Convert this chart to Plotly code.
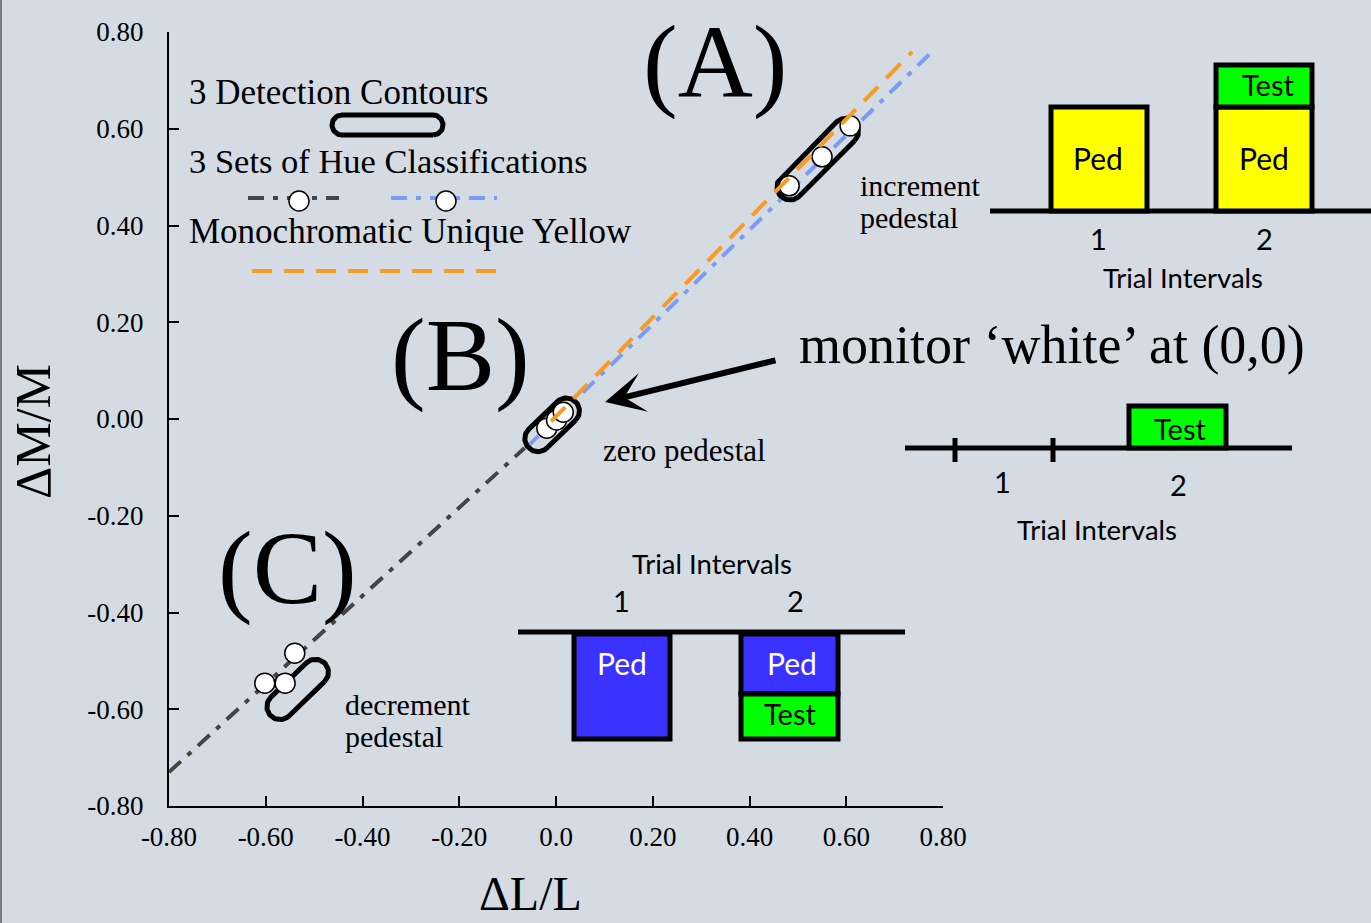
import numpy as np
import plotly.graph_objects as go

# ---------------- data ----------------
inc_x = [0.482, 0.550, 0.608]
inc_y = [0.482, 0.542, 0.606]
zero_x = [-0.019, 0.001, 0.015]
zero_y = [-0.019, -0.002, 0.014]
dec_x = [-0.540, -0.602, -0.560]
dec_y = [-0.484, -0.546, -0.546]

gray_x = [-0.80, -0.065]
gray_y = [-0.730, -0.060]
blue_x = [-0.060, 0.777]
blue_y = [-0.058, 0.759]
orange_x = [-0.010, 0.736]
orange_y = [-0.005, 0.759]

# detection contours: centre x, centre y, half length, angle (deg), radius
contour_cx = [0.541, -0.008, -0.534]
contour_cy = [0.537, -0.012, -0.559]
contour_half = [0.081, 0.041, 0.051]
contour_ang = [45, 44, 44]
contour_r = [0.027, 0.027, 0.027]

tick_vals = [-0.8, -0.6, -0.4, -0.2, 0.0, 0.2, 0.4, 0.6, 0.8]
x_tick_text = ["-0.80", "-0.60", "-0.40", "-0.20", "0.0", "0.20", "0.40", "0.60", "0.80"]
y_tick_text = ["-0.80", "-0.60", "-0.40", "-0.20", "0.00", "0.20", "0.40", "0.60", "0.80"]

# ---------------- layout helpers ----------------
W, H = 1371, 923
L, R, T, B = 169, 428, 32, 117
PW, PH = W - L - R, H - T - B
BG = "#d4dbe3"
SERIF = "Liberation Serif, Times New Roman, serif"
SANS = "Lato, Noto Sans, sans-serif"
GRAY = "#444444"
BLUE = "#7b9cf5"
ORANGE = "#f99a22"
YELLOW = "#ffff00"
GREEN = "#00ff00"
PURPLE = "#3a33ff"


def px(x):
    return (x - L) / PW


def py(y):
    return (H - B - y) / PH


def dx(x):  # pixel -> data x
    return (x - L) / PW * 1.6 - 0.8


def dy(y):  # pixel -> data y
    return (H - B - y) / PH * 1.6 - 0.8


def capsule(cx, cy, half, ang, r, n=40):
    a = np.deg2rad(ang)
    ux, uy = np.cos(a), np.sin(a)
    t1 = np.linspace(a - np.pi / 2, a + np.pi / 2, n)
    t2 = np.linspace(a + np.pi / 2, a + 3 * np.pi / 2, n)
    x1 = cx + half * ux + r * np.cos(t1)
    y1 = cy + half * uy + r * np.sin(t1)
    x2 = cx - half * ux + r * np.cos(t2)
    y2 = cy - half * uy + r * np.sin(t2)
    xs = np.concatenate([x1, x2, x1[:1]])
    ys = np.concatenate([y1, y2, y1[:1]])
    return xs, ys


DASHDOT = "16px,9px,5px,9px"
DASH = "20px,12px"

fig = go.Figure()

# fit lines (under the points)
fig.add_trace(go.Scatter(x=gray_x, y=gray_y, mode="lines",
                         line=dict(color=GRAY, width=4, dash=DASHDOT), hoverinfo="skip"))
fig.add_trace(go.Scatter(x=blue_x, y=blue_y, mode="lines",
                         line=dict(color=BLUE, width=4, dash=DASHDOT), hoverinfo="skip"))

# contours
for cx, cy, hl, ang, r in zip(contour_cx, contour_cy, contour_half, contour_ang, contour_r):
    xs, ys = capsule(cx, cy, hl, ang, r)
    fig.add_trace(go.Scatter(x=xs, y=ys, mode="lines",
                             line=dict(color="black", width=5), hoverinfo="skip"))

# hue classification points
for xs, ys in [(inc_x, inc_y), (zero_x, zero_y), (dec_x, dec_y)]:
    fig.add_trace(go.Scatter(x=xs, y=ys, mode="markers",
                             marker=dict(size=20, color="white",
                                         line=dict(color="black", width=1.5)),
                             hoverinfo="skip"))

# monochromatic unique yellow
fig.add_trace(go.Scatter(x=orange_x, y=orange_y, mode="lines",
                         line=dict(color=ORANGE, width=4, dash=DASH), hoverinfo="skip"))

# ---------------- legend samples ----------------
fig.add_trace(go.Scatter(x=[dx(248), dx(339)], y=[dy(198), dy(198)], mode="lines",
                         line=dict(color=GRAY, width=4, dash=DASHDOT), hoverinfo="skip"))
fig.add_trace(go.Scatter(x=[dx(391), dx(497)], y=[dy(198), dy(198)], mode="lines",
                         line=dict(color=BLUE, width=4, dash=DASHDOT), hoverinfo="skip"))
fig.add_trace(go.Scatter(x=[dx(299), dx(446)], y=[dy(201), dy(201)], mode="markers",
                         marker=dict(size=20, color="white", line=dict(color="black", width=1.5)),
                         hoverinfo="skip"))
fig.add_trace(go.Scatter(x=[dx(252), dx(499)], y=[dy(271), dy(271)], mode="lines",
                         line=dict(color=ORANGE, width=4, dash=DASH), hoverinfo="skip"))
lx, ly = capsule(dx(387.5), dy(125), 1.6 * 45.5 / PW, 0, 1.6 * 10 / PW)
fig.add_trace(go.Scatter(x=lx, y=ly, mode="lines", line=dict(color="black", width=5),
                         hoverinfo="skip"))

annotations = []


def text(x, y, s, size, family=SERIF, color="black", xanchor="center", yanchor="middle"):
    annotations.append(dict(x=px(x), y=py(y), xref="paper", yref="paper", text=s,
                            showarrow=False, xanchor=xanchor, yanchor=yanchor,
                            font=dict(family=family, size=size, color=color)))


# legend texts
text(187, 93, "3 Detection Contours", 35, xanchor="left")
text(187, 161, "3 Sets of Hue Classifications", 34.5, xanchor="left")
text(187, 231, "Monochromatic Unique Yellow", 35, xanchor="left")

# big panel labels
text(715, 62, "(A)", 104)
text(460, 355, "(B)", 104)
text(287, 568, "(C)", 104)

# descriptive labels
text(858, 185, "increment", 30, xanchor="left")
text(858, 217, "pedestal", 30, xanchor="left")
text(601, 450, "zero pedestal", 31, xanchor="left")
text(343, 704, "decrement", 30, xanchor="left")
text(343, 736, "pedestal", 30, xanchor="left")
text(797, 345, "monitor ‘white’ at (0,0)", 54, xanchor="left")

# axis titles
text(530, 894, "ΔL/L", 48)
annotations.append(dict(x=px(33), y=py(432), xref="paper", yref="paper", text="ΔM/M",
                        showarrow=False, textangle=-90, xanchor="center", yanchor="middle",
                        font=dict(family=SERIF, size=50, color="black")))

# arrow to white point
annotations.append(dict(x=dx(605), y=dy(402), xref="x", yref="y", text="",
                        showarrow=True, axref="pixel", ayref="pixel", ax=172, ay=-42,
                        arrowhead=3, arrowsize=1.1, arrowwidth=6, arrowcolor="black"))

# ---------------- trial-interval schematics ----------------
shapes = []
LW = 5


def hline(x0, x1, y):
    shapes.append(dict(type="line", xref="paper", yref="paper", x0=px(x0), x1=px(x1),
                       y0=py(y), y1=py(y), line=dict(color="black", width=LW)))


def vline(x, y0, y1):
    shapes.append(dict(type="line", xref="paper", yref="paper", x0=px(x), x1=px(x),
                       y0=py(y0), y1=py(y1), line=dict(color="black", width=LW)))


def box(x0, x1, y0, y1, fill):
    shapes.append(dict(type="rect", xref="paper", yref="paper", x0=px(x0), x1=px(x1),
                       y0=py(y0), y1=py(y1), fillcolor=fill,
                       line=dict(color="black", width=LW)))


# (A) increment pedestal
hline(990, 1371, 211)
box(1051, 1147, 107, 211, YELLOW)
box(1216, 1312, 107, 211, YELLOW)
box(1216, 1312, 65, 107, GREEN)
text(1098, 158, "Ped", 30, SANS)
text(1264, 158, "Ped", 30, SANS)
text(1268, 84, "Test", 29, SANS)
text(1098, 238, "1", 29, SANS)
text(1264, 238, "2", 29, SANS)
text(1183, 277, "Trial Intervals", 27.5, SANS)

# (B) zero pedestal
hline(905, 1292, 448)
vline(955, 438, 462)
vline(1053, 438, 462)
box(1129, 1226, 406, 448, GREEN)
text(1180, 428, "Test", 29, SANS)
text(1003, 482, "1", 29, SANS)
text(1178, 485, "2", 29, SANS)
text(1097, 529, "Trial Intervals", 27.5, SANS)

# (C) decrement pedestal
hline(518, 905, 632)
box(574, 670, 634, 739, PURPLE)
box(741, 838, 634, 694, PURPLE)
box(741, 838, 694, 739, GREEN)
text(622, 663, "Ped", 30, SANS, color="white")
text(792, 663, "Ped", 30, SANS, color="white")
text(790, 713, "Test", 29, SANS)
text(621, 600, "1", 29, SANS)
text(795, 600, "2", 29, SANS)
text(712, 563, "Trial Intervals", 27.5, SANS)

# left frame line
shapes.append(dict(type="line", xref="paper", yref="paper", x0=px(1), x1=px(1),
                   y0=py(0), y1=py(H), line=dict(color="#7a7a7a", width=2)))

axis_common = dict(range=[-0.8, 0.8], tickvals=tick_vals, ticks="inside", ticklen=10,
                   tickwidth=2, tickcolor="black", showline=True, linewidth=2,
                   linecolor="black", showgrid=False, zeroline=False,
                   tickfont=dict(family=SERIF, size=27, color="black"))

fig.update_layout(
    width=W, height=H,
    margin=dict(l=L, r=R, t=T, b=B, pad=0),
    paper_bgcolor=BG, plot_bgcolor=BG,
    showlegend=False,
    xaxis=dict(ticktext=x_tick_text, ticklabelstandoff=6, **axis_common),
    yaxis=dict(ticktext=y_tick_text, ticklabelstandoff=18, **axis_common),
    annotations=annotations,
    shapes=shapes,
)
fig.update_xaxes(mirror=False)
fig.update_yaxes(mirror=False)

fig.write_html("out.html", config={"displayModeBar": False},
               post_script="document.body.style.margin='0';document.body.style.overflow='hidden';")
